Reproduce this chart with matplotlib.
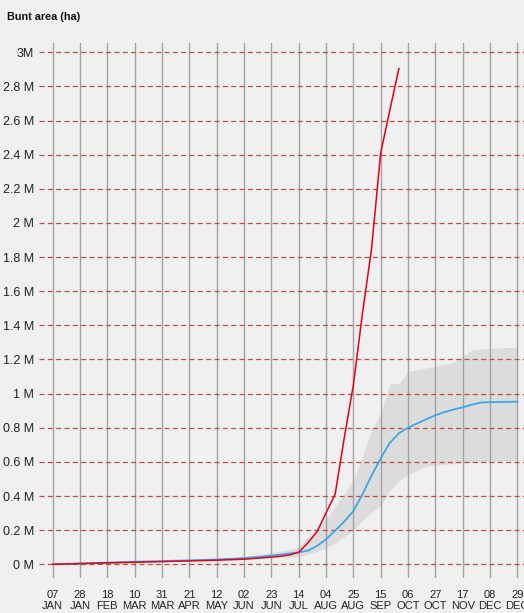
import matplotlib
matplotlib.use("Agg")
import matplotlib.pyplot as plt
import matplotlib.dates as mdates
import numpy as np
import pandas as pd

plt.rcParams['font.family'] = ['Liberation Sans', 'DejaVu Sans']
plt.rcParams['lines.scale_dashes'] = False

# ---- data (values in millions of ha) ----
red_dates = ["2020-01-07", "2020-01-28", "2020-02-18", "2020-03-10", "2020-03-31",
             "2020-04-21", "2020-05-12", "2020-06-02", "2020-06-23", "2020-06-30",
             "2020-07-07", "2020-07-14", "2020-07-21", "2020-07-28", "2020-08-04",
             "2020-08-11", "2020-08-18", "2020-08-25", "2020-09-01", "2020-09-08",
             "2020-09-15", "2020-09-22", "2020-09-29"]
red_values = [0.000, 0.004, 0.008, 0.012, 0.016,
              0.020, 0.024, 0.030, 0.042, 0.047,
              0.055, 0.070, 0.125, 0.190, 0.300,
              0.410, 0.740, 1.050, 1.470, 1.850,
              2.410, 2.660, 2.905]

blue_dates = ["2020-01-07", "2020-01-28", "2020-02-18", "2020-03-10", "2020-03-31",
              "2020-04-21", "2020-05-12", "2020-06-02", "2020-06-23", "2020-07-14",
              "2020-07-21", "2020-07-28", "2020-08-04", "2020-08-11", "2020-08-18",
              "2020-08-25", "2020-09-01", "2020-09-08", "2020-09-15", "2020-09-22",
              "2020-09-29", "2020-10-06", "2020-10-13", "2020-10-20", "2020-10-27",
              "2020-11-03", "2020-11-10", "2020-11-17", "2020-11-24", "2020-12-01",
              "2020-12-08", "2020-12-15", "2020-12-22", "2020-12-29"]
blue_values = [0.000, 0.005, 0.010, 0.015, 0.019,
               0.023, 0.028, 0.036, 0.050, 0.070,
               0.080, 0.107, 0.146, 0.197, 0.250,
               0.312, 0.410, 0.520, 0.620, 0.712,
               0.768, 0.800, 0.825, 0.850, 0.873,
               0.892, 0.907, 0.920, 0.935, 0.948,
               0.950, 0.951, 0.952, 0.953]

band_dates = ["2020-01-07", "2020-02-18", "2020-03-31", "2020-05-12", "2020-06-02",
              "2020-06-23", "2020-07-07", "2020-07-14", "2020-07-21", "2020-07-28",
              "2020-08-04", "2020-08-11", "2020-08-18", "2020-08-25", "2020-09-01",
              "2020-09-08", "2020-09-15", "2020-09-22", "2020-09-29", "2020-10-06",
              "2020-10-13", "2020-10-20", "2020-10-27", "2020-11-03", "2020-11-10",
              "2020-11-17", "2020-11-24", "2020-12-01", "2020-12-08", "2020-12-15",
              "2020-12-22", "2020-12-29"]
band_low = [0.000, 0.006, 0.014, 0.022, 0.028,
            0.038, 0.042, 0.045, 0.058, 0.075,
            0.098, 0.125, 0.160, 0.200, 0.255,
            0.305, 0.345, 0.430, 0.490, 0.525,
            0.550, 0.575, 0.582, 0.585, 0.590,
            0.595, 0.598, 0.600, 0.602, 0.604,
            0.606, 0.607]
band_high = [0.002, 0.013, 0.024, 0.034, 0.045,
             0.068, 0.085, 0.103, 0.160, 0.207,
             0.264, 0.338, 0.414, 0.494, 0.630,
             0.787, 0.885, 1.056, 1.060, 1.130,
             1.140, 1.150, 1.160, 1.170, 1.185,
             1.220, 1.256, 1.262, 1.266, 1.268,
             1.270, 1.271]

tick_dates = ["2020-01-07", "2020-01-28", "2020-02-18", "2020-03-10", "2020-03-31",
              "2020-04-21", "2020-05-12", "2020-06-02", "2020-06-23", "2020-07-14",
              "2020-08-04", "2020-08-25", "2020-09-15", "2020-10-06", "2020-10-27",
              "2020-11-17", "2020-12-08", "2020-12-29"]
ytick_values = [0, 0.2, 0.4, 0.6, 0.8, 1.0, 1.2, 1.4, 1.6, 1.8, 2.0, 2.2, 2.4, 2.6, 2.8, 3.0]
ytick_labels = ["0 M", "0.2 M", "0.4 M", "0.6 M", "0.8 M", "1 M", "1.2 M", "1.4 M",
                "1.6 M", "1.8 M", "2 M", "2.2 M", "2.4 M", "2.6 M", "2.8 M", "3M"]

# ---- figure ----
bg = '#f0f0f0'
fig = plt.figure(figsize=(5.24, 6.13), dpi=100, facecolor=bg)
ax = fig.add_axes([39/524, 1 - 578/613, 1 - 39/524, (578 - 43)/613])
ax.set_facecolor(bg)

rd = pd.to_datetime(red_dates)
bd = pd.to_datetime(blue_dates)
gd = pd.to_datetime(band_dates)
td = pd.to_datetime(tick_dates)

ax.fill_between(gd, np.array(band_low) * 1e6, np.array(band_high) * 1e6,
                color='#dcdcdc', lw=0, zorder=1)
ax.plot(bd, np.array(blue_values) * 1e6, color='#3aa8e4', lw=1.3, zorder=4)
ax.plot(rd, np.array(red_values) * 1e6, color='#e3001b', lw=1.1, zorder=5)

# axes limits
x0 = mdates.date2num(td[0])
ax.set_xlim(x0 - 10.5, x0 + 362.1)
ax.set_ylim(-0.0803e6, 3.0545e6)

ax.set_xticks(td)
ax.set_xticklabels([d.strftime('%d') + '\n' + d.strftime('%b').upper() for d in td],
                   fontsize=8.0, color='#222222', linespacing=1.15)
ax.set_yticks(np.array(ytick_values) * 1e6)
ax.set_yticklabels(ytick_labels, fontsize=9.0, color='#222222')
ax.tick_params(axis='both', length=0)
ax.tick_params(axis='y', pad=3.6)
ax.tick_params(axis='x', pad=8.5)

ax.set_axisbelow(False)
ax.xaxis.grid(True, color='#a3a3a3', lw=1.0, zorder=2)
ax.yaxis.grid(True, color='#c24a4a', lw=0.9, linestyle=(0, (3.6, 2.4)), zorder=2)
for s in ax.spines.values():
    s.set_visible(False)

fig.text(7/524, 1 - 17/613, 'Bunt area (ha)', fontsize=7.8, fontweight='bold',
         color='#111111', ha='left', va='center')

fig.savefig('out.png', dpi=100, facecolor=bg)
